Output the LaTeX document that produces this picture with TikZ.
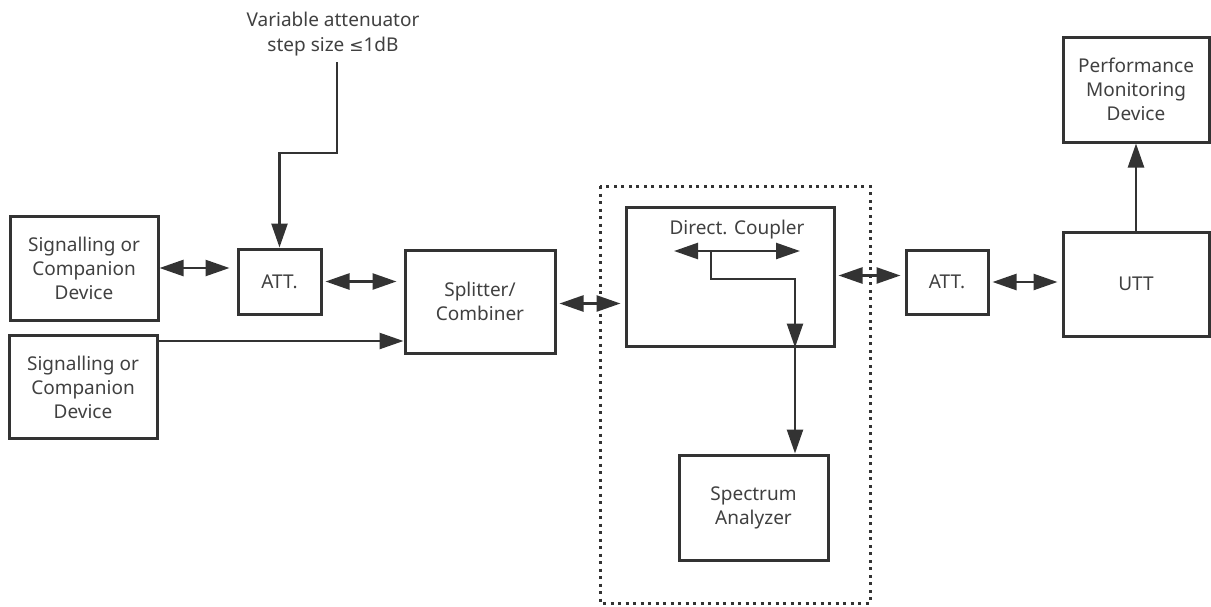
\documentclass[tikz,border=0pt]{standalone}
\usepackage{fontspec}
\setmainfont{Noto Sans}
\newfontfamily\symfont{DejaVu Sans}
\usetikzlibrary{arrows.meta}
\definecolor{ink}{HTML}{333333}
\definecolor{txt}{HTML}{404040}
\begin{document}
\begin{tikzpicture}[x=1pt, y=-1pt,
    box/.style={draw=ink, line width=3pt, align=center, text=txt,
        font=\fontsize{19}{24}\selectfont, inner sep=0pt},
    link/.style={draw=ink, line width=2.5pt, -{Triangle[length=24pt,width=16pt]}},
    dlink/.style={link, {Triangle[length=24pt,width=16pt]}-{Triangle[length=24pt,width=16pt]},
        shorten <=3pt, shorten >=4pt}]
    \useasboundingbox (0,0) rectangle (1211,606);

    % Sources
    \node[box, minimum width=148pt, minimum height=104pt] (sigA) at (84,268) {Signalling or\\Companion\\Device};
    \node[box, minimum width=148pt, minimum height=103pt] (sigB) at (83,387) {Signalling or\\Companion\\Device};
    \node[box, minimum width=83pt, minimum height=65pt] (attA) at (279.5,281.5) {ATT.};
    \node[box, minimum width=150pt, minimum height=103pt] (split) at (480,301.5) {Splitter/\\Combiner};

    % Attenuator note
    \node[text=txt, align=center, font=\fontsize{19}{25}\selectfont] (note) at (333,34) {Variable attenuator\\step size {\symfont\fontsize{17}{25}\selectfont ≤}1dB};
    \coordinate (noteEnd) at (337,62);
    \coordinate (bend) at (337,153);

    % Measurement part
    \draw[ink, line width=3pt, dash pattern=on 3pt off 4.5pt] (600,186) rectangle (870,603);
    \node[box, minimum width=208pt, minimum height=139pt] (coupler) at (730,276.5) {};
    \node[text=txt, font=\fontsize{19}{24}\selectfont] (couplerLbl) at (737,230) {Direct. Coupler};
    \node[box, minimum width=149pt, minimum height=105pt] (spec) at (753.5,507.5) {Spectrum\\Analyzer};
    \coordinate (thruL) at (674,251);
    \coordinate (thruR) at (800,251);
    \coordinate (tapStart) at (711,252);
    \coordinate (tap) at (795,279);

    % Device under test
    \node[box, minimum width=82pt, minimum height=64pt] (attB) at (947,282) {ATT.};
    \node[box, minimum width=146pt, minimum height=104pt] (utt) at (1136,284) {UTT};
    \node[box, minimum width=146pt, minimum height=105pt] (perf) at (1136,89.5) {Performance\\Monitoring\\Device};

    % Connections
    \draw[dlink, shorten <=0pt, shorten >=7pt] (sigA.east) -- (sigA.east -| attA.west);
    \draw[dlink, shorten >=7pt] (attA.east) -- (attA.east -| split.west);
    \draw[link] ([yshift=-7pt]sigB.north east) -- ([yshift=-7pt]sigB.north east -| split.west);
    \draw[link] (noteEnd) -- (bend) -- (bend -| attA.north) -- (attA.north);
    \draw[dlink] ([yshift=-2pt]split.east) -- ([yshift=-2pt]split.east -| coupler.west);
    \draw[dlink, shorten <=0pt, shorten >=0pt] (thruL) -- (thruR);
    \draw[link, line cap=butt] (tapStart) -- (tapStart |- tap) -- (tap) -- (tap |- coupler.south);
    \draw[link] (tap |- coupler.south) -- (tap |- spec.north);
    \draw[dlink] ([yshift=1pt]coupler.east) -- ([yshift=1pt]coupler.east -| attB.west);
    \draw[dlink] (attB.east) -- (attB.east -| utt.west);
    \draw[link] (utt.north) -- (perf.south);
\end{tikzpicture}
\end{document}
